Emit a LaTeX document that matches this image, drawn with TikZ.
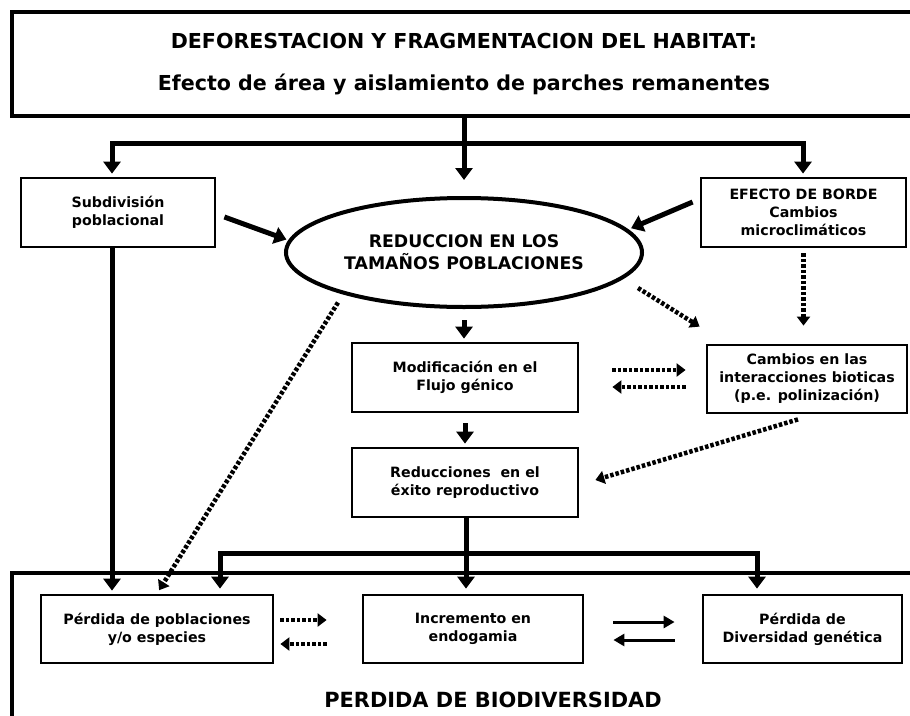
\documentclass[tikz,border=0pt]{standalone}
\usepackage{fontspec}
\setmainfont{DejaVu Sans}
\usetikzlibrary{positioning,calc,shapes.geometric,arrows.meta}

\begin{document}
\begin{tikzpicture}[x=1pt,y=-1pt,
  every node/.style={font=\bfseries},
  Bignode/.style={draw,line width=4.5pt,inner sep=0pt,align=center},
  Boxnode/.style={draw,line width=2.8pt,inner sep=0pt,align=center,minimum height=68pt,
    font=\bfseries\fontsize{14.2}{18}\selectfont},
  Ellnode/.style={ellipse,draw,line width=4pt,inner sep=0pt,align=center,
    minimum width=356pt,minimum height=109pt,font=\bfseries\fontsize{17.3}{22}\selectfont},
  Thickarr/.style={line width=5pt,-{Triangle[length=12pt,width=17pt]}},
  Dotarr/.style={line width=4.5pt,dash pattern=on 3.5pt off 2pt,-{Triangle[length=9pt,width=13pt]}},
  Thinarr/.style={line width=3pt,-{Triangle[length=11pt,width=12pt]}}
]
\useasboundingbox (0,0) rectangle (910,715);

% the big boxes
\node[Bignode,minimum width=904pt,minimum height=104pt,
  font=\bfseries\fontsize{20.6}{42}\selectfont] (habitat) at (464,64)
  {DEFORESTACION Y FRAGMENTACION DEL HABITAT:\\Efecto de área y aislamiento de parches remanentes};
\node[Bignode,minimum width=904pt,minimum height=147pt] (biodiv) at (464,646.5) {};
\node[font=\bfseries\fontsize{20.9}{24}\selectfont] (biodivtxt) at (493,700) {PERDIDA DE BIODIVERSIDAD};

% the boxes in between
\node[Boxnode,minimum width=194pt,minimum height=69pt] (subdiv) at (118,212.5) {Subdivisión\\poblacional};
\node[Boxnode,minimum width=205pt,minimum height=69pt] (borde) at (803.5,212.5) {EFECTO DE BORDE\\Cambios\\microclimáticos};
\node[Ellnode] (tamanos) at (464,252.5) {REDUCCION EN LOS\\TAMAÑOS POBLACIONES};
\node[Boxnode,minimum width=226pt,minimum height=69pt] (flujo) at (465,377.5) {Modificación en el\\Flujo génico};
\node[Boxnode,minimum width=200pt] (biotic) at (807,379) {Cambios en las\\interacciones bioticas\\(p.e. polinización)};
\node[Boxnode,minimum width=226pt,minimum height=69pt] (exito) at (465,482.5) {Reducciones~ en el\\éxito reproductivo};
\node[Boxnode,minimum width=232pt] (pobl) at (157,629) {Pérdida de poblaciones\\y/o especies};
\node[Boxnode,minimum width=220pt] (endog) at (473,629) {Incremento en\\endogamia};
\node[Boxnode,minimum width=199pt] (divgen) at (802.5,629) {Pérdida de\\Diversidad genética};

% the junctions
\coordinate (jC) at (464,143);
\coordinate (jL) at (112,143);
\coordinate (jR) at (803,143);
\coordinate (kC) at (466,553);
\coordinate (kL) at (220,553);
\coordinate (kR) at (757,553);

% the solid arrows
\draw[Thickarr,shorten >=16pt] (habitat.south -| jC) -- (tamanos.north);
\draw[Thickarr,shorten >=3pt] (jC) -| (jL |- subdiv.north);
\draw[Thickarr,shorten >=3pt] (jC) -| (jR |- borde.north);
\draw[Thickarr,shorten >=3pt] (subdiv.south -| jL) -- (jL |- pobl.north);
\draw[Thickarr,shorten >=2pt] ($(subdiv.east)+(8,4.5)$) -- (tamanos.176);
\draw[Thickarr,shorten >=3pt] ($(borde.west)+(-7,-10.5)$) -- (tamanos.8);
\draw[Thickarr,shorten <=11pt,shorten >=3pt] (tamanos.south) -- (tamanos.south |- flujo.north);
\draw[Thickarr,shorten <=10pt,shorten >=3pt] (flujo.south) -- (exito.north);
\draw[Thickarr,shorten >=5pt] (exito.south -| kC) -- (kC |- endog.north);
\draw[Thickarr,shorten >=5pt] (kC) -| (kL |- pobl.north);
\draw[Thickarr,shorten >=5pt] (kC) -| (kR |- divgen.north);
\draw[Thinarr] ($(endog.east)+(29,-7)$) -- ($(divgen.west)+(-27,-7)$);
\draw[Thinarr] ($(divgen.west)+(-27,11)$) -- ($(endog.east)+(29,11)$);

% the dotted arrows
\draw[Dotarr,shorten >=4pt] ($(tamanos.center)+(-126,50)$) -- (pobl.north);
\draw[Dotarr] ($(tamanos.east)+(-6,35.5)$) -- ($(biotic.north west)+(-6,-17)$);
\draw[Dotarr,shorten <=5pt,shorten >=18pt] (borde.south) -- (borde.south |- biotic.north);
\draw[Dotarr] ($(biotic.south)+(-9,5)$) -- ($(exito.east)+(16,-2.5)$);
\draw[Dotarr] ($(flujo.east)+(33,-7.5)$) -- ($(biotic.west)+(-20,-9)$);
\draw[Dotarr] ($(biotic.west)+(-20,8)$) -- ($(flujo.east)+(33,9.5)$);
\draw[Dotarr] ($(pobl.east)+(6,-9)$) -- ($(endog.west)+(-35,-9)$);
\draw[Dotarr] ($(endog.west)+(-35,15)$) -- ($(pobl.east)+(6,15)$);

\end{tikzpicture}
\end{document}
